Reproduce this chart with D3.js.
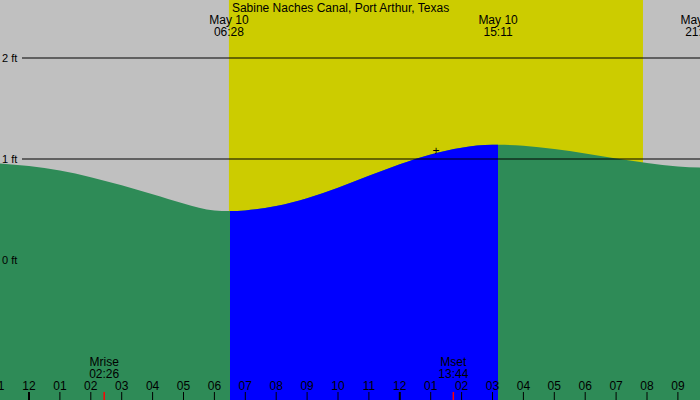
<!DOCTYPE html><html><head><script src="https://cdn.jsdelivr.net/npm/d3@7"></script>
<style>body{margin:0}svg{display:block;font-family:"Liberation Sans",Arial,sans-serif}</style></head><body><svg id="c" width="700" height="400"></svg><script>
const hours=[-1,0,1,2,3,4,5,6,6.47,7,8,9,10,11,12,13,14,15,15.18,16,17,18,19,20,21,21.72,22];
const heights=[0.958,0.93,0.885,0.82,0.74,0.65,0.56,0.49,0.485,0.491,0.534,0.612,0.716,0.833,0.947,1.044,1.111,1.14,1.14,1.131,1.099,1.055,1.005,0.96,0.925,0.915,0.915];
const tickHours=[-1,0,1,2,3,4,5,6,7,8,9,10,11,12,13,14,15,16,17,18,19,20,21];
const tickLabels=["11","12","01","02","03","04","05","06","07","08","09","10","11","12","01","02","03","04","05","06","07","08","09"];
const sunrise=6.47,sunset=19.87,riseStart=6.47,riseEnd=15.18;
const moonEvents=[{h:2.433,name:"Mrise",t:"02:26"},{h:13.733,name:"Mset",t:"13:44"}];
const extremes=[{h:6.47,t:"06:28"},{h:15.18,t:"15:11"},{h:21.72,t:"21:43"}];
const ftTicks=[0,1,2];
const svg=d3.select("#c"),W=700,H=400;
const x=d3.scaleLinear().domain([0,1]).range([29,59.9]);
const y=d3.scaleLinear().domain([0,1]).range([260,159]);
svg.append("rect").attr("width",W).attr("height",H).attr("fill","#c0c0c0");
svg.append("rect").attr("x",x(sunrise)).attr("width",x(sunset)-x(sunrise)).attr("y",0).attr("height",H).attr("fill","#cccc00");
const pts=hours.map((h,i)=>[h,heights[i]]);
const area=d3.area().x(d=>x(d[0])).y0(H).y1(d=>y(d[1])).curve(d3.curveMonotoneX);
svg.append("path").attr("d",area(pts)).attr("fill","#2e8b57");
svg.append("clipPath").attr("id","cl").append("rect").attr("x",x(riseStart)+1).attr("width",x(riseEnd)-x(riseStart)-1).attr("y",0).attr("height",H);
svg.append("path").attr("d",area(pts)).attr("fill","#0000ff").attr("clip-path","url(#cl)");
ftTicks.forEach(f=>{
  if(f>0)svg.append("line").attr("x1",22).attr("x2",W).attr("y1",y(f)).attr("y2",y(f)).attr("stroke","#000");
  svg.append("text").attr("x",2).attr("y",y(f)+4).attr("font-size",11).text(f+" ft");
});
svg.append("text").attr("x",x(sunrise)+3).attr("y",12).attr("font-size",12).text("Sabine Naches Canal, Port Arthur, Texas");
extremes.forEach(e=>{
  svg.append("text").attr("x",x(e.h)).attr("y",24).attr("text-anchor","middle").attr("font-size",12).text("May 10");
  svg.append("text").attr("x",x(e.h)).attr("y",36).attr("text-anchor","middle").attr("font-size",12).text(e.t);
});
svg.append("text").attr("x",436).attr("y",155).attr("text-anchor","middle").attr("font-size",12).text("+");
tickHours.forEach((h,i)=>{
  svg.append("text").attr("x",x(h)).attr("y",390).attr("text-anchor","middle").attr("font-size",12).text(tickLabels[i]);
  svg.append("line").attr("x1",x(h)).attr("x2",x(h)).attr("y1",392).attr("y2",400).attr("stroke","#000").attr("stroke-width",h===0||h===12?2:1);
});
moonEvents.forEach(m=>{
  svg.append("text").attr("x",x(m.h)).attr("y",366).attr("text-anchor","middle").attr("font-size",12).text(m.name);
  svg.append("text").attr("x",x(m.h)).attr("y",378).attr("text-anchor","middle").attr("font-size",12).text(m.t);
  svg.append("line").attr("x1",x(m.h)).attr("x2",x(m.h)).attr("y1",392).attr("y2",400).attr("stroke","red").attr("stroke-width",1.5);
});
</script></body></html>
